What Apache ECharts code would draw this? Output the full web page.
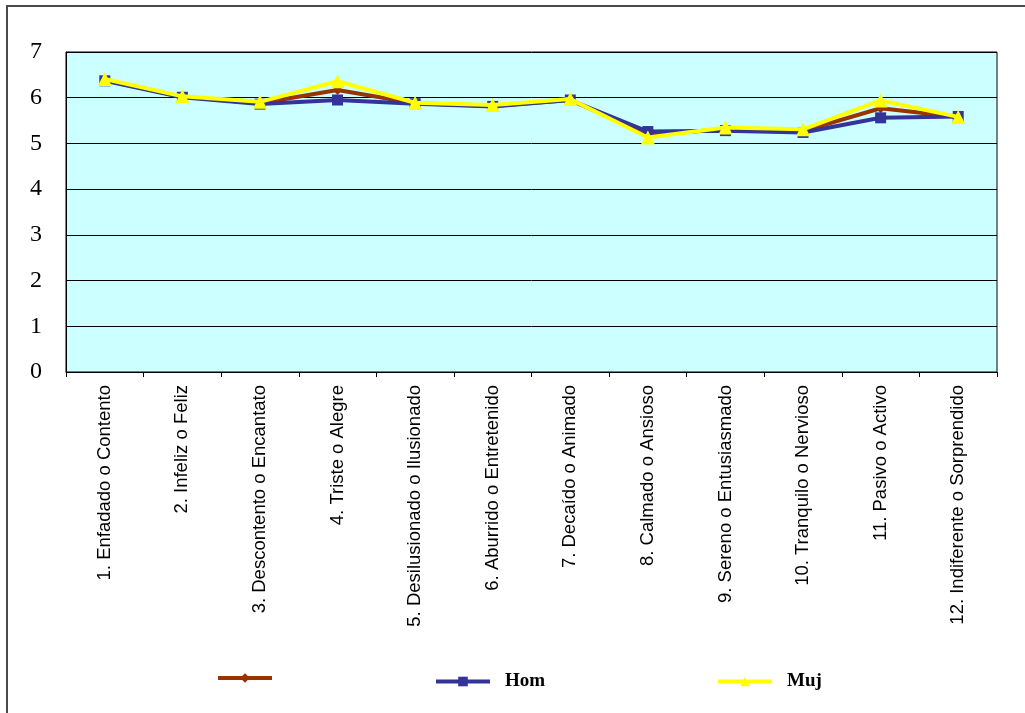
<!DOCTYPE html>
<html>
<head>
<meta charset="utf-8">
<title>Escalas de estado de ánimo</title>
<script src="https://cdn.jsdelivr.net/npm/echarts@6/dist/echarts.min.js"></script>
<style>
  html, body { margin: 0; padding: 0; background: #fff; }
  #chart { width: 1025px; height: 713px; }
</style>
</head>
<body>
<div id="chart"></div>
<script>
// Bipolar mood items (1–7 scale)
const categories = [
  '1. Enfadado o Contento',
  '2. Infeliz o Feliz',
  '3. Descontento o Encantato',
  '4. Triste o Alegre',
  '5. Desilusionado o Ilusionado',
  '6. Aburrido o Entretenido',
  '7. Decaído o Animado',
  '8. Calmado o Ansioso',
  '9. Sereno o Entusiasmado',
  '10. Tranquilo o Nervioso',
  '11. Pasivo o Activo',
  '12. Indiferente o Sorprendido'
];

// Mean score per item: whole sample, men, women
const totalValues = [6.38, 6.02, 5.88, 6.17, 5.88, 5.82, 5.95, 5.19, 5.31, 5.27, 5.77, 5.58];
const homValues   = [6.37, 6.01, 5.86, 5.95, 5.87, 5.81, 5.95, 5.26, 5.28, 5.24, 5.56, 5.59];
const mujValues   = [6.41, 6.03, 5.91, 6.36, 5.89, 5.84, 5.97, 5.13, 5.35, 5.31, 5.94, 5.58];

const yTicks = [0, 1, 2, 3, 4, 5, 6, 7];

const chart = echarts.init(document.getElementById('chart'));

const legendBase = {
  orient: 'horizontal',
  top: 667,
  itemWidth: 54,
  itemHeight: 12,
  lineStyle: { width: 4 },
  textStyle: {
    fontFamily: 'Liberation Serif',
    fontSize: 19,
    fontWeight: 'bold',
    color: '#000',
    padding: [0, 0, 0, 10]
  }
};

chart.setOption({
  animation: false,
  backgroundColor: '#fff',
  graphic: [{
    type: 'rect',
    shape: { x: 7, y: 6, width: 1040, height: 740 },
    style: { fill: 'none', stroke: '#4a4a4a', lineWidth: 2 },
    silent: true,
    z: -1
  }],
  grid: {
    left: 66,
    top: 52,
    right: 28,
    bottom: 341,
    show: true,
    backgroundColor: '#CCFFFF',
    borderColor: '#000',
    borderWidth: 1
  },
  legend: [
    Object.assign({}, legendBase, {
      left: 211, data: ['Total'],
      formatter: function () { return ''; }
    }),
    Object.assign({}, legendBase, { left: 429, data: ['Hom'] }),
    Object.assign({}, legendBase, { left: 711, data: ['Muj'] })
  ],
  xAxis: {
    type: 'category',
    data: categories,
    boundaryGap: true,
    axisLine: { lineStyle: { color: '#000', width: 1 } },
    axisTick: { show: true, length: 5, lineStyle: { color: '#000' } },
    axisLabel: {
      interval: 0,
      rotate: 90,
      margin: 13,
      fontFamily: 'Liberation Sans',
      fontSize: 18.5,
      color: '#000'
    }
  },
  yAxis: {
    type: 'value',
    min: yTicks[0],
    max: yTicks[yTicks.length - 1],
    interval: 1,
    axisLine: { show: true, lineStyle: { color: '#000' } },
    axisTick: { show: false },
    splitLine: { show: true, lineStyle: { color: '#000', width: 1 } },
    axisLabel: {
      margin: 24,
      fontFamily: 'Liberation Serif',
      fontSize: 24,
      color: '#000',
      formatter: function (v) { return yTicks.indexOf(v) >= 0 ? String(v) : ''; }
    }
  },
  series: [
    {
      name: 'Total',
      type: 'line',
      data: totalValues,
      symbol: 'diamond',
      symbolSize: 10,
      color: '#993300',
      lineStyle: { color: '#993300', width: 4 },
      itemStyle: { color: '#993300' },
      z: 2
    },
    {
      name: 'Hom',
      type: 'line',
      data: homValues,
      symbol: 'rect',
      symbolSize: 11,
      color: '#333399',
      lineStyle: { color: '#333399', width: 4 },
      itemStyle: { color: '#333399' },
      z: 3
    },
    {
      name: 'Muj',
      type: 'line',
      data: mujValues,
      symbol: 'triangle',
      symbolSize: 14,
      color: '#FFFF00',
      lineStyle: { color: '#FFFF00', width: 4 },
      itemStyle: { color: '#FFFF00' },
      z: 4
    }
  ]
});
</script>
</body>
</html>
